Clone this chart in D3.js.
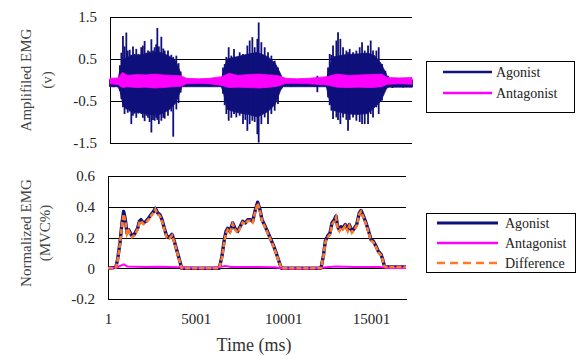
<!DOCTYPE html>
<html>
<head>
<meta charset="utf-8">
<script src="https://cdn.jsdelivr.net/npm/d3@7"></script>
<style>
  body { margin: 0; background: #fff; }
  svg text { font-family: "Liberation Serif", "Times New Roman", Times, "DejaVu Serif", serif; fill: #222; }
</style>
</head>
<body>
<div id="chart"></div>
<script>
// ---- data ----
// top panel: amplified EMG, peak values of the raw signal (max / min) at each instant
const agonistTime = [0, 200,
  450, 560, 640, 730, 820, 920, 1000, 1110, 1200, 1295, 1390, 1480, 1600, 1760, 1850, 1950, 2050, 2140, 2230, 2330,
  2420, 2515, 2600, 2665, 2750, 2890, 3000, 3080, 3265, 3450, 3560, 3735, 3860, 3980, 4050,
  4300, 5000, 5600,
  6268, 6362, 6456, 6550, 6681, 6831, 6981, 7112, 7300, 7488, 7620, 7732, 7863, 8013, 8145, 8295, 8370, 8520,
  8708, 8895, 9083, 9271, 9458, 9646, 9740,
  10200, 11000, 11550, 11673, 11780,
  12180, 12273, 12367, 12461, 12555, 12743, 12836, 12968, 13118, 13306, 13399, 13493, 13681, 13869, 14056, 14188,
  14338, 14525, 14675, 14807, 14994, 15126, 15314, 15501, 15651,
  15900, 16500, 17000];
const agonistHigh = [0.02, 0.01,
  0.05, 0.35, 0.65, 1.05, 0.80, 1.13, 0.70, 0.72, 0.60, 0.80, 0.62, 0.74, 0.62, 0.78, 0.82, 0.93, 0.65, 0.70, 0.68, 0.97,
  0.70, 0.78, 0.85, 1.24, 0.80, 1.03, 0.75, 0.70, 0.70, 0.60, 0.55, 0.58, 0.40, 0.20, 0.0,
  0.01, 0.02, 0.01,
  0.05, 0.30, 0.38, 0.55, 0.78, 0.58, 0.74, 0.54, 0.66, 0.62, 0.58, 0.82, 0.94, 1.02, 0.78, 0.98, 1.37, 0.90,
  0.78, 0.66, 0.58, 0.46, 0.30, 0.06, 0.0,
  0.01, 0.02, 0.01, 0.10, 0.01,
  0.05, 0.30, 0.62, 0.60, 0.82, 0.94, 1.135, 0.98, 0.78, 0.70, 0.66, 0.74, 0.66, 0.70, 0.78, 0.90,
  0.70, 0.82, 0.94, 0.70, 0.70, 0.78, 0.38, 0.22, 0.10,
  0.0, 0.0, 0.01];
const agonistLow = [-0.16, -0.17,
  -0.17, -0.26, -0.45, -0.65, -0.81, -0.70, -0.78, -0.75, -1.05, -0.85, -0.80, -0.90, -0.80, -0.81, -0.90, -0.98, -0.85, -0.90, -1.0, -1.25,
  -0.95, -0.97, -0.90, -0.95, -1.05, -0.97, -0.90, -0.92, -0.85, -0.75, -1.35, -0.70, -0.55, -0.30, -0.16,
  -0.16, -0.15, -0.16,
  -0.17, -0.33, -0.60, -0.81, -0.97, -0.90, -0.81, -0.89, -0.85, -1.05, -0.95, -1.21, -1.05, -0.97, -1.0, -1.29, -1.49, -1.05,
  -0.89, -1.05, -0.81, -0.73, -0.57, -0.20, -0.16,
  -0.16, -0.15, -0.16, -0.29, -0.16,
  -0.17, -0.41, -0.60, -0.73, -0.93, -0.89, -0.95, -1.05, -0.89, -0.95, -1.21, -0.95, -0.89, -0.97, -1.0, -1.05,
  -1.05, -1.05, -0.81, -0.89, -0.65, -0.81, -0.49, -0.20, -0.17,
  -0.19, -0.18, -0.17];

// solid body of the agonist bursts (dense part under the spikes)
const bodyTime = [0, 450, 560, 750, 1200, 1800, 2300, 2800, 3300, 3700, 3950, 4050,
  6268, 6400, 6600, 7200, 7800, 8300, 8900, 9300, 9600, 9740,
  12180, 12300, 12550, 13200, 13900, 14500, 14900, 15250, 15550, 15651, 17000];
const bodyHigh = [0.0, 0.0, 0.25, 0.50, 0.58, 0.60, 0.64, 0.66, 0.58, 0.45, 0.20, 0.0,
  0.0, 0.25, 0.50, 0.56, 0.62, 0.66, 0.55, 0.40, 0.15, 0.0,
  0.0, 0.25, 0.55, 0.60, 0.62, 0.64, 0.58, 0.40, 0.15, 0.0, 0.0];
const bodyLow = [-0.16, -0.16, -0.26, -0.62, -0.75, -0.78, -0.82, -0.82, -0.72, -0.55, -0.28, -0.16,
  -0.16, -0.33, -0.70, -0.78, -0.82, -0.88, -0.75, -0.58, -0.25, -0.16,
  -0.16, -0.40, -0.72, -0.80, -0.82, -0.80, -0.65, -0.50, -0.22, -0.17, -0.17];

const antagTime = [0, 450, 700, 1000, 1500, 2000, 2500, 3000, 3500, 4000, 4300, 5000, 5600, 6300, 6700, 7200,
  7800, 8400, 9000, 9500, 9900, 10500, 11200, 12200, 12800, 13400, 14000, 14700, 15300, 15600, 16300, 17000];
const antagHigh = [0.04, 0.05, 0.18, 0.11, 0.13, 0.12, 0.14, 0.12, 0.11, 0.10, 0.04, 0.03, 0.04, 0.08, 0.16, 0.11,
  0.13, 0.14, 0.12, 0.10, 0.04, 0.03, 0.04, 0.08, 0.14, 0.11, 0.12, 0.13, 0.14, 0.06, 0.05, 0.06];
const antagLow = [-0.09, -0.11, -0.18, -0.16, -0.18, -0.17, -0.19, -0.18, -0.16, -0.15, -0.09, -0.08, -0.09, -0.13, -0.18, -0.17,
  -0.18, -0.19, -0.17, -0.14, -0.08, -0.08, -0.09, -0.12, -0.17, -0.18, -0.17, -0.18, -0.16, -0.10, -0.09, -0.10];

// bottom panel: normalized EMG
const normTime = [1, 300, 456, 551, 685, 799, 894, 989, 1084, 1179, 1274, 1369, 1502, 1692, 1788, 1883, 2016, 2168,
  2320, 2453, 2605, 2700, 2834, 2967, 3081, 3214, 3347, 3499, 3651, 3784, 3917, 4069, 4202, 5000, 6000,
  6352, 6504, 6637, 6732, 6827, 6960, 7112, 7245, 7397, 7550, 7683, 7835, 7968, 8120, 8253, 8405, 8538, 8672,
  8786, 8919, 9052, 9204, 9337, 9489, 9622, 9775, 9889, 11000,
  12152, 12285, 12399, 12532, 12665, 12779, 12912, 13007, 13103, 13198, 13293, 13388, 13540, 13673, 13768, 13920,
  14053, 14186, 14338, 14434, 14567, 14719, 14871, 15004, 15137, 15290, 15423, 15575, 15670, 15765, 15860, 16500, 17000];
const agonistNorm = [0, 0.003, 0.01, 0.058, 0.166, 0.295, 0.37, 0.316, 0.23, 0.25, 0.23, 0.21, 0.22, 0.26, 0.305, 0.316,
  0.295, 0.305, 0.327, 0.348, 0.37, 0.39, 0.36, 0.348, 0.316, 0.26, 0.21, 0.20, 0.22, 0.176, 0.12, 0.058, 0.0, 0.0, 0.0,
  0.0, 0.08, 0.187, 0.24, 0.26, 0.24, 0.295, 0.26, 0.24, 0.273, 0.305, 0.295, 0.316, 0.316, 0.305, 0.38, 0.43, 0.38,
  0.316, 0.284, 0.25, 0.21, 0.176, 0.133, 0.09, 0.037, 0.0, 0.0,
  0.0, 0.08, 0.176, 0.21, 0.23, 0.295, 0.316, 0.34, 0.27, 0.25, 0.27, 0.26, 0.284, 0.25, 0.284, 0.24,
  0.26, 0.284, 0.36, 0.376, 0.34, 0.295, 0.24, 0.187, 0.176, 0.144, 0.11, 0.09, 0.058, 0.015, 0.008, 0.008, 0.008];
const differenceNorm = [0, 0, 0.005, 0.05, 0.16, 0.285, 0.35, 0.305, 0.222, 0.243, 0.222, 0.203, 0.213, 0.252, 0.297, 0.308,
  0.287, 0.297, 0.318, 0.34, 0.362, 0.382, 0.352, 0.339, 0.307, 0.251, 0.201, 0.192, 0.213, 0.17, 0.115, 0.053, 0.0, 0.0, 0.0,
  0.0, 0.072, 0.175, 0.228, 0.25, 0.232, 0.287, 0.252, 0.232, 0.265, 0.297, 0.287, 0.308, 0.308, 0.297, 0.372, 0.422, 0.372,
  0.308, 0.276, 0.243, 0.203, 0.17, 0.127, 0.085, 0.035, 0.0, 0.0,
  0.0, 0.075, 0.168, 0.2, 0.22, 0.285, 0.305, 0.33, 0.26, 0.242, 0.262, 0.252, 0.276, 0.242, 0.276, 0.232,
  0.252, 0.276, 0.352, 0.368, 0.332, 0.287, 0.232, 0.18, 0.169, 0.137, 0.104, 0.085, 0.054, 0.013, 0.008, 0.008, 0.008];
const antagNormTime = [1, 500, 900, 1100, 2000, 3000, 4000, 5000, 6000, 6700, 7000, 8500, 9500, 10000, 11500,
  12300, 13000, 14000, 15500, 16000, 17000];
const antagNorm = [0.002, 0.005, 0.025, 0.012, 0.008, 0.01, 0.006, 0.002, 0.002, 0.015, 0.008, 0.008, 0.006, -0.002, -0.002,
  0.005, 0.012, 0.008, 0.008, 0.002, 0.002];

const topTicks = [1.5, 0.5, -0.5, -1.5];
const topTickLabels = ['1.5', '0.5', '-0.5', '-1.5'];
const bottomTicks = [0.6, 0.4, 0.2, 0, -0.2];
const bottomTickLabels = ['0.6', '0.4', '0.2', '0', '-0.2'];
const timeTicks = [1, 5001, 10001, 15001];

const topLegend = [{name: 'Agonist', color: '#10107c'}, {name: 'Antagonist', color: '#ff00ff'}];
const bottomLegend = [
  {name: 'Agonist', color: '#10107c', dash: null},
  {name: 'Antagonist', color: '#ff00ff', dash: null},
  {name: 'Difference', color: '#ff7a22', dash: '8,5'}
];

// ---- drawing ----
const FONT = '"Liberation Serif", "Times New Roman", Times, "DejaVu Serif", serif';

const svg = d3.select('#chart').append('svg')
  .attr('width', 579)
  .attr('height', 356)
  .attr('font-family', FONT);

const zip3 = (t, a, b) => t.map((d, i) => ({t: d, hi: a[i], lo: b[i]}));
const zip2 = (t, a) => t.map((d, i) => ({t: d, v: a[i]}));

function drawYAxis(y, ticks, labels, x0, x1, padding) {
  const axis = d3.axisLeft(y)
    .tickValues(ticks)
    .tickSize(-(x1 - x0))
    .tickSizeOuter(0)
    .tickPadding(padding)
    .tickFormat((d, i) => labels[i]);
  const g = svg.append('g')
    .attr('transform', `translate(${x0},0)`)
    .call(axis)
    .attr('font-family', FONT)
    .attr('font-size', 15);
  g.selectAll('line').attr('stroke', '#000').attr('shape-rendering', 'crispEdges');
  g.select('.domain').attr('stroke', '#000').attr('shape-rendering', 'crispEdges');
  g.selectAll('text').attr('fill', '#222');
  return g;
}

// top panel
const xTop = d3.scaleLinear().domain([1, 17000]).range([110, 412]);
const yTop = d3.scaleLinear().domain([-1.5, 1.5]).range([143, 17]);

drawYAxis(yTop, topTicks, topTickLabels, 110, 412, 13);

const envArea = (x, y) => d3.area()
  .x(d => x(d.t))
  .y0(d => y(d.lo))
  .y1(d => y(d.hi));

// dense body
svg.append('path')
  .datum(zip3(bodyTime, bodyHigh, bodyLow))
  .attr('d', envArea(xTop, yTop))
  .attr('fill', '#10107c')
  .attr('stroke', '#10107c')
  .attr('stroke-width', 0.8);

// peaks: one vertical stroke per sample, from min to max
svg.append('g')
  .attr('stroke', '#10107c')
  .attr('stroke-width', 1.8)
  .selectAll('line')
  .data(zip3(agonistTime, agonistHigh, agonistLow))
  .join('line')
  .attr('x1', d => xTop(d.t))
  .attr('x2', d => xTop(d.t))
  .attr('y1', d => yTop(d.lo))
  .attr('y2', d => yTop(d.hi));

svg.append('path')
  .datum(zip3(antagTime, antagHigh, antagLow))
  .attr('d', envArea(xTop, yTop))
  .attr('fill', '#ff00ff')
  .attr('stroke', '#ff00ff')
  .attr('stroke-width', 0.8);

// top legend
const lgTop = svg.append('g');
lgTop.append('rect')
  .attr('x', 426.5).attr('y', 61.5)
  .attr('width', 148).attr('height', 51)
  .attr('fill', '#fff').attr('stroke', '#000').attr('stroke-width', 1);
topLegend.forEach((d, i) => {
  const yy = 72 + i * 21;
  lgTop.append('line')
    .attr('x1', 443).attr('x2', 492).attr('y1', yy).attr('y2', yy)
    .attr('stroke', d.color).attr('stroke-width', 2.5);
  lgTop.append('text')
    .attr('x', 496).attr('y', yy + 4.5)
    .attr('font-size', 14)
    .text(d.name);
});

// bottom panel
const xBot = d3.scaleLinear().domain([1, 17000]).range([108, 406]);
const yBot = d3.scaleLinear().domain([-0.2, 0.6]).range([299, 176]);

drawYAxis(yBot, bottomTicks, bottomTickLabels, 108, 406, 13);

const xAxis = svg.append('g')
  .attr('transform', 'translate(0,299)')
  .call(d3.axisBottom(xBot).tickValues(timeTicks).tickSize(0).tickSizeOuter(0).tickPadding(14)
    .tickFormat(d3.format('d')))
  .attr('font-family', FONT)
  .attr('font-size', 15);
xAxis.select('.domain').attr('stroke', '#000').attr('shape-rendering', 'crispEdges');
xAxis.selectAll('text').attr('fill', '#222');

const normLine = d3.line()
  .x(d => xBot(d.t))
  .y(d => yBot(d.v));

svg.append('path')
  .datum(zip2(normTime, agonistNorm))
  .attr('d', normLine)
  .attr('fill', 'none')
  .attr('stroke', '#10107c')
  .attr('stroke-width', 3.4)
  .attr('stroke-linejoin', 'round');

svg.append('path')
  .datum(zip2(antagNormTime, antagNorm))
  .attr('d', normLine)
  .attr('fill', 'none')
  .attr('stroke', '#ff00ff')
  .attr('stroke-width', 2);

svg.append('path')
  .datum(zip2(normTime, differenceNorm))
  .attr('d', normLine)
  .attr('fill', 'none')
  .attr('stroke', '#ff7a22')
  .attr('stroke-width', 2.6)
  .attr('stroke-dasharray', '5,2');

// bottom legend
const lgBot = svg.append('g');
lgBot.append('rect')
  .attr('x', 426.5).attr('y', 213.5)
  .attr('width', 149).attr('height', 59)
  .attr('fill', '#fff').attr('stroke', '#000').attr('stroke-width', 1);
bottomLegend.forEach((d, i) => {
  const yy = 223 + i * 20;
  lgBot.append('line')
    .attr('x1', 437).attr('x2', 498).attr('y1', yy).attr('y2', yy)
    .attr('stroke', d.color)
    .attr('stroke-width', i === 0 ? 3.2 : 2.5)
    .attr('stroke-dasharray', d.dash);
  lgBot.append('text')
    .attr('x', 505).attr('y', yy + 4.5)
    .attr('font-size', 14)
    .text(d.name);
});

// axis titles
const titles = [
  {text: 'Amplifiled EMG', x: 31, y: 80},
  {text: '(v)', x: 52, y: 80},
  {text: 'Normalized EMG', x: 31, y: 233},
  {text: '(MVC%)', x: 50, y: 233}
];
titles.forEach(d => {
  svg.append('text')
    .attr('transform', `translate(${d.x},${d.y}) rotate(-90)`)
    .attr('text-anchor', 'middle')
    .attr('font-size', 15)
    .style('fill', '#444')
    .text(d.text);
});
svg.append('text')
  .attr('x', 254).attr('y', 351)
  .attr('text-anchor', 'middle')
  .attr('font-size', 18)
  .style('fill', '#333')
  .text('Time (ms)');
</script>
</body>
</html>
